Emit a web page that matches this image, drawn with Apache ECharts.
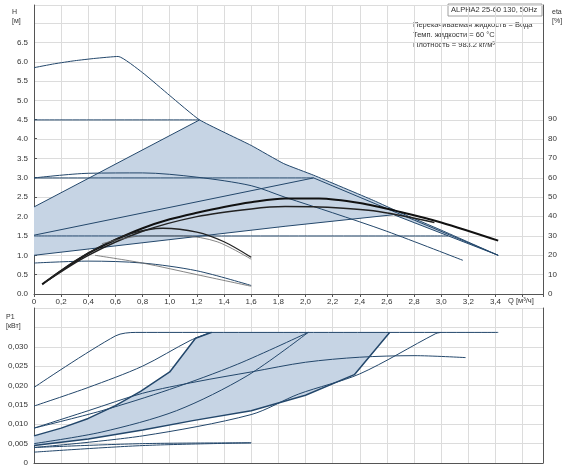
<!DOCTYPE html><html><head><meta charset="utf-8">
<script src="https://cdn.jsdelivr.net/npm/echarts@6/dist/echarts.min.js"></script>
<style>body{margin:0}#c{width:570px;height:469px}</style></head><body><div id="c"></div><script>
// ---- data (Q m3/h, H m) ----
const hMax=[[0,5.85],[0.15,5.95],[0.3,6.03],[0.45,6.09],[0.62,6.14],[0.8,5.72],[1.0,5.13],[1.22,4.5],[1.6,3.84],[1.84,3.37],[2.06,3.07],[2.5,2.42],[2.7,2.1],[3.0,1.65],[3.42,1.0]];
const hConst45=[[0,4.5],[1.22,4.5]];
const hConst30=[[0,3.0],[2.06,3.0]];
const hConst15=[[0,1.5],[3.05,1.5]];
const hProp1=[[0,2.25],[1.22,4.5]];
const hProp2=[[0,1.52],[2.06,3.0],[3.42,1.0]];
const hProp3=[[0,1.0],[1.85,1.75],[2.65,2.05],[3.42,1.0]];
const hHump=[[0,3.0],[0.4,3.12],[0.8,3.13],[1.2,3.02],[1.6,2.8],[1.85,2.5],[2.2,2.1],[2.6,1.62],[3.16,0.87]];
const hLow=[[0,0.8],[0.4,0.85],[0.8,0.8],[1.2,0.6],[1.6,0.22]];
const hLowThin=[[0.45,1.0],[0.8,0.8],[1.2,0.5],[1.6,0.2]];
const shade=[[0,2.25],[1.22,4.5],[1.6,3.84],[1.84,3.37],[2.06,3.07],[2.5,2.42],[2.7,2.1],[3.0,1.65],[3.42,1.0],[2.65,2.05],[1.85,1.75],[0,1.0]];
// efficiency curves (plotted in H units, eta = H*20)
const eta1=[[0.06,0.25],[0.2,0.6],[0.4,1.05],[0.6,1.4],[0.8,1.7],[1.0,1.93],[1.2,2.1],[1.4,2.25],[1.6,2.37],[1.85,2.47],[2.1,2.47],[2.4,2.35],[2.7,2.12],[3.0,1.85],[3.42,1.38]];
const eta2=[[0.08,0.3],[0.4,1.0],[0.8,1.62],[1.2,2.0],[1.6,2.2],[1.85,2.26],[2.1,2.25],[2.5,2.15],[2.95,1.85]];
const eta3=[[0.1,0.35],[0.3,0.85],[0.5,1.25],[0.7,1.55],[0.95,1.7],[1.2,1.6],[1.4,1.35],[1.6,0.95]];
const eta3thin=[[0.5,1.3],[0.8,1.5],[1.1,1.5],[1.35,1.35],[1.6,0.9]];
// power P1 (kW)
const p1=[[0,0.0195],[0.6,0.0328],[0.75,0.0337],[3.42,0.0337]];
const p2=[[0,0.0147],[0.4,0.0195],[0.8,0.025],[1.15,0.0316],[1.3,0.0337]];
const p3=[[0,0.007],[0.2,0.009],[0.4,0.0115],[0.6,0.0148],[0.785,0.0185],[1.0,0.0235],[1.19,0.0322],[1.31,0.0337]];
const p4=[[0,0.0045],[0.4,0.0062],[0.8,0.0085],[1.18,0.011],[1.6,0.0135],[2.0,0.0175],[2.36,0.0228],[2.62,0.0337]];
const p5=[[0,0.009],[0.5,0.0135],[1.0,0.019],[1.5,0.0255],[2.02,0.0337]];
const p6=[[0,0.005],[0.5,0.008],[1.05,0.0135],[1.57,0.0225],[2.02,0.0337]];
const pHump=[[0,0.009],[0.4,0.0135],[0.8,0.018],[1.2,0.021],[1.6,0.0235],[2.0,0.026],[2.4,0.0273],[2.8,0.0277],[3.18,0.0272]];
const p7=[[0,0.004],[0.8,0.007],[1.6,0.0125],[1.95,0.0178],[2.4,0.023],[2.96,0.0334],[3.0,0.0337]];
const pLow1=[[0,0.0028],[0.8,0.0045],[1.6,0.0052]];
const pLow2=[[0,0.004],[0.8,0.005],[1.6,0.0052]];
const pShade=p3.concat([[2.62,0.0337]],p4.slice().reverse().slice(1));
const etaTicks=[0,10,20,30,40,50,60,70,80,90];

const C='#23476b', G='#dcdcdc', F='#c6d4e4';
const ln=(d,xi,w,col,sm)=>({type:'line',data:d,xAxisIndex:xi,yAxisIndex:xi===0?0:2,showSymbol:false,symbol:'none',smooth:sm===undefined?0.3:sm,lineStyle:{color:col||C,width:w||1},z:3,silent:true});
const poly=(d,xi)=>({type:'custom',xAxisIndex:xi,yAxisIndex:xi===0?0:2,data:[0],silent:true,z:1,
  renderItem:(p,api)=>({type:'polygon',shape:{points:d.map(v=>api.coord(v))},style:{fill:F}})});
const comma=(v,n)=>v===0?'0':v.toFixed(n).replace('.',',');
const ch=echarts.init(document.getElementById('c'));
const xa=(i,show)=>({type:'value',gridIndex:i,min:0,max:3.75,interval:0.2,axisLine:{show:true,lineStyle:{color:'#555'}},axisTick:{show:show,length:3},
  axisLabel:{show:show,fontSize:8,color:'#333',margin:4,formatter:v=>v>3.5?'':comma(v,1)},splitLine:{lineStyle:{color:G}}});
ch.setOption({animation:false,
 grid:[{left:34,right:27,top:5,height:289},{left:34,right:27,top:308,height:155},{left:34,right:27,top:119,height:175}],
 xAxis:[xa(0,true),xa(1,false),{type:'value',gridIndex:2,min:0,max:1,show:false}],
 yAxis:[{type:'value',gridIndex:0,min:0,max:7.47,interval:0.5,axisLine:{show:true,lineStyle:{color:'#555'}},axisTick:{show:false},
   axisLabel:{fontSize:8,color:'#333',margin:6,formatter:v=>v>6.6?'':v.toFixed(1)},splitLine:{lineStyle:{color:G}}},
  {type:'value',gridIndex:0,position:'right',min:0,max:1,axisLine:{show:true,lineStyle:{color:'#555'}},axisTick:{show:false},axisLabel:{show:false},splitLine:{show:false}},
  {type:'value',gridIndex:1,min:0,max:0.04,interval:0.005,axisLine:{show:true,lineStyle:{color:'#555'}},axisTick:{show:false},
   axisLabel:{fontSize:8,color:'#333',margin:6,formatter:v=>v>0.031?'':comma(v,3)},splitLine:{lineStyle:{color:G}}},
  {type:'value',gridIndex:1,position:'right',min:0,max:0.04,axisLine:{show:true,lineStyle:{color:'#555'}},axisLabel:{show:false},axisTick:{show:false},splitLine:{show:false}},
  {type:'value',gridIndex:2,position:'right',min:etaTicks[0],max:etaTicks[etaTicks.length-1],interval:10,axisLine:{show:false},axisTick:{show:true,length:3,lineStyle:{color:'#555'}},
   axisLabel:{fontSize:8,color:'#333',margin:5},splitLine:{show:false}}],
 graphic:[
  {type:'text',left:12,top:8,style:{text:'H\n[м]',fontSize:7,fill:'#333',lineHeight:9}},
  {type:'text',left:552,top:8,style:{text:'eta\n[%]',fontSize:7,fill:'#333',lineHeight:9}},
  {type:'text',left:6,top:313,style:{text:'P1\n[кВт]',fontSize:7,fill:'#333',lineHeight:9}},
  {type:'text',left:508,top:297,style:{text:'Q [м³/ч]',fontSize:7.5,fill:'#333'}},
  {type:'rect',shape:{x:448,y:4,width:94,height:12},style:{fill:'#fff',stroke:'#888',lineWidth:0.8}},
  {type:'text',left:451,top:6,style:{text:'ALPHA2 25-60 130, 50Hz',fontSize:7.5,fill:'#333'}},
  {type:'text',left:413,top:20,style:{text:'Перекачиваемая жидкость = Вода\nТемп. жидкости = 60 °C\nПлотность = 983.2 кг/м³',fontSize:7.5,fill:'#333',lineHeight:10}}
 ],
 series:[poly(shade,0),poly(pShade,1),
  ln(hMax,0,1,C,0.15),ln(hConst45,0),ln(hConst30,0),ln(hConst15,0),ln(hProp1,0,1,C,false),ln(hProp2,0,1,C,false),ln(hProp3,0,1,C,false),
  ln(hHump,0),ln(hLow,0),ln(hLowThin,0,0.8,'#666'),
  ln(eta1,0,2,'#111'),ln(eta2,0,1.5,'#222'),ln(eta3,0,1.3,'#222'),ln(eta3thin,0,0.8,'#666'),
  ln(p1,1),ln(p2,1),ln(p3,1,1.5,C,false),ln(p4,1,1.5,C,false),ln(p5,1),ln(p6,1),ln(pHump,1),ln(p7,1),ln(pLow1,1),ln(pLow2,1)]
});
</script></body></html>
